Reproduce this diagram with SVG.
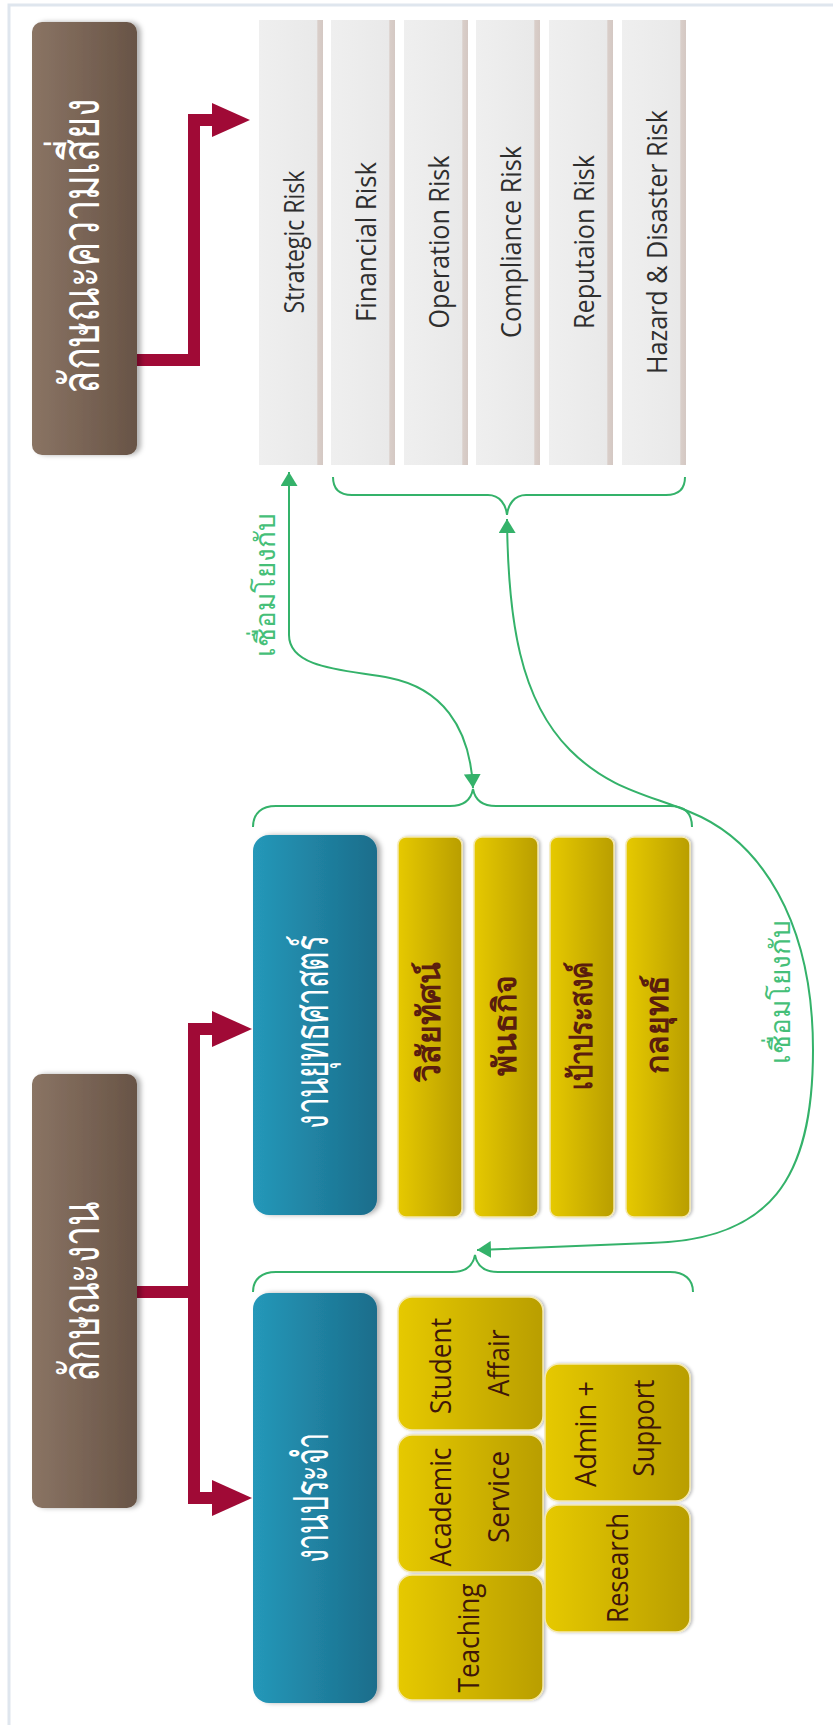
<svg xmlns="http://www.w3.org/2000/svg" width="833" height="1725" viewBox="0 0 833 1725">
<defs>
<linearGradient id="gBrown" x1="0" y1="0" x2="1" y2="0"><stop offset="0" stop-color="#8a7464"/><stop offset="1" stop-color="#685446"/></linearGradient>
<linearGradient id="gBlue" x1="0" y1="0" x2="1" y2="0"><stop offset="0" stop-color="#2598b9"/><stop offset="1" stop-color="#1b6d8b"/></linearGradient>
<linearGradient id="gYellow" x1="0" y1="0" x2="1" y2="0"><stop offset="0" stop-color="#e6c900"/><stop offset="1" stop-color="#b99e00"/></linearGradient>
<linearGradient id="gRisk" x1="0" y1="0" x2="1" y2="0"><stop offset="0" stop-color="#efefef"/><stop offset="0.9" stop-color="#e9e9e9"/><stop offset="0.92" stop-color="#d9cec9"/><stop offset="1" stop-color="#d4c8c3"/></linearGradient>
<filter id="shadow" x="-20%" y="-10%" width="150%" height="120%"><feDropShadow dx="4" dy="0" stdDeviation="2.5" flood-color="#000" flood-opacity="0.3"/></filter>
<filter id="shadowS" x="-20%" y="-10%" width="150%" height="120%"><feDropShadow dx="2" dy="0" stdDeviation="1.5" flood-color="#000" flood-opacity="0.25"/></filter>
<marker id="gArrow" viewBox="0 0 14 17" refX="14" refY="8.5" markerWidth="14" markerHeight="17" markerUnits="userSpaceOnUse" orient="auto-start-reverse"><path d="M0,0 L14,8.5 L0,17 z" fill="#34b26a"/></marker>
</defs>
<style>
.brown{fill:url(#gBrown);filter:url(#shadow)}
.blue{fill:url(#gBlue);filter:url(#shadow)}
.yel{fill:url(#gYellow);stroke:#f4e8ae;stroke-width:1.5;filter:url(#shadowS)}
.risk{fill:url(#gRisk)}
.red{fill:none;stroke:#a00a36;stroke-width:12;stroke-linejoin:miter}
.redh{fill:#a00a36}
.green{fill:none;stroke:#34b26a;stroke-width:2}
.thW{font-family:"Noto Sans","DejaVu Sans",sans-serif;fill:#ffffff;font-weight:500;text-anchor:middle}
.thY{font-family:"Noto Sans","DejaVu Sans",sans-serif;fill:#5a1d0e;font-weight:bold;font-size:32px;text-anchor:middle}
.thG{font-family:"Noto Sans","DejaVu Sans",sans-serif;fill:#45bf78;font-size:28px;text-anchor:middle}
.en{font-family:"Open Sans","Liberation Sans",sans-serif;fill:#2e2e2e;font-size:28px;text-anchor:middle}
.enY{font-family:"Open Sans","Liberation Sans",sans-serif;fill:#3f1709;font-size:30px;text-anchor:middle}
</style>
<rect width="833" height="1725" fill="#ffffff"/>
<path d="M833,5 H9 V1725" fill="none" stroke="#dfe6ee" stroke-width="3"/>

<g id="connectors">
<path class="red" d="M137,360 H194 V120 H214"/>
<polygon class="redh" points="212,103 250,120 212,137"/>
<path class="red" d="M137,1292 H194 M194,1029 V1498 M188,1029 H214 M188,1498 H214"/>
<polygon class="redh" points="212,1011 252,1029 212,1047"/>
<polygon class="redh" points="212,1480 252,1498 212,1516"/>
<path class="green" d="M333,477 C333,490 340,495 352,495 H488 C500,495 506,505 507,515 C508,505 514,495 526,495 H666 C678,495 685,490 685,477"/>
<path class="green" d="M253,827 C253,813 262,806 276,806 H450 C463,806 471,800 473,789 C475,800 483,806 496,806 H670 C684,806 692,813 692,827"/>
<path class="green" d="M253,1292 C253,1279 262,1272 276,1272 H452 C465,1272 473,1266 475,1255 C477,1266 485,1272 498,1272 H670 C684,1272 693,1279 693,1292"/>
<path class="green" marker-start="url(#gArrow)" marker-end="url(#gArrow)" d="M289,472 V635 C289,670 350,670 390,678 C440,688 470,725 473,788"/>
<path class="green" marker-start="url(#gArrow)" marker-end="url(#gArrow)" d="M507,519 C508,620 520,700 570,750 C610,790 650,795 690,812 C760,840 813,920 813,1050 C813,1180 770,1240 650,1243 L477,1250"/>
<text class="thG" transform="translate(275,585) rotate(-90)">เชื่อมโยงกับ</text>
<text class="thG" transform="translate(790,992) rotate(-90)">เชื่อมโยงกับ</text>
</g>

<g id="node-risk-type">
<rect class="brown" x="32" y="22" width="105" height="433" rx="10"/>
<text class="thW" font-size="54" transform="translate(99,246) rotate(-90) scale(0.7,1)">ลักษณะความเสี่ยง</text>
</g>

<g id="node-risk-strategic"><rect class="risk" x="259" y="20" width="64" height="445"/><text class="en" textLength="143" lengthAdjust="spacingAndGlyphs" transform="translate(304,242) rotate(-90)">Strategic Risk</text></g>
<g id="node-risk-financial"><rect class="risk" x="331" y="20" width="64" height="445"/><text class="en" textLength="160" lengthAdjust="spacingAndGlyphs" transform="translate(376,242) rotate(-90)">Financial Risk</text></g>
<g id="node-risk-operation"><rect class="risk" x="404" y="20" width="64" height="445"/><text class="en" textLength="173" lengthAdjust="spacingAndGlyphs" transform="translate(449,242) rotate(-90)">Operation Risk</text></g>
<g id="node-risk-compliance"><rect class="risk" x="476" y="20" width="64" height="445"/><text class="en" textLength="192" lengthAdjust="spacingAndGlyphs" transform="translate(521,242) rotate(-90)">Compliance Risk</text></g>
<g id="node-risk-reputation"><rect class="risk" x="549" y="20" width="64" height="445"/><text class="en" textLength="174" lengthAdjust="spacingAndGlyphs" transform="translate(594,242) rotate(-90)">Reputaion Risk</text></g>
<g id="node-risk-hazard"><rect class="risk" x="622" y="20" width="64" height="445"/><text class="en" textLength="264" lengthAdjust="spacingAndGlyphs" transform="translate(667,242) rotate(-90)">Hazard &amp; Disaster Risk</text></g>

<g id="node-work-type">
<rect class="brown" x="32" y="1074" width="105" height="434" rx="10"/>
<text class="thW" font-size="54" transform="translate(99,1292) rotate(-90) scale(0.66,1)">ลักษณะงาน</text>
</g>

<g id="node-strategic-work">
<rect class="blue" x="253" y="835" width="124" height="380" rx="16"/>
<text class="thW" font-size="48" transform="translate(328,1032) rotate(-90) scale(0.62,1)">งานยุทธศาสตร์</text>
</g>
<g id="node-vision"><rect class="yel" x="398" y="837" width="64" height="380" rx="8"/><text class="thY" transform="translate(440,1022) rotate(-90)">วิสัยทัศน์</text></g>
<g id="node-mission"><rect class="yel" x="474" y="837" width="64" height="380" rx="8"/><text class="thY" transform="translate(516,1025) rotate(-90)">พันธกิจ</text></g>
<g id="node-goal"><rect class="yel" x="550" y="837" width="64" height="380" rx="8"/><text class="thY" transform="translate(592,1026) rotate(-90) scale(0.8,1)">เป้าประสงค์</text></g>
<g id="node-strategy"><rect class="yel" x="626" y="837" width="64" height="380" rx="8"/><text class="thY" transform="translate(668,1024) rotate(-90)">กลยุทธ์</text></g>

<g id="node-routine-work">
<rect class="blue" x="253" y="1293" width="124" height="410" rx="16"/>
<text class="thW" font-size="48" transform="translate(328,1498) rotate(-90) scale(0.6,1)">งานประจำ</text>
</g>
<g id="node-student"><rect class="yel" x="398" y="1297" width="145" height="133" rx="14"/><text class="enY" textLength="96" lengthAdjust="spacingAndGlyphs" transform="translate(451,1366) rotate(-90)">Student</text><text class="enY" textLength="67" lengthAdjust="spacingAndGlyphs" transform="translate(509,1363) rotate(-90)">Affair</text></g>
<g id="node-academic"><rect class="yel" x="398" y="1435" width="145" height="137" rx="14"/><text class="enY" textLength="119" lengthAdjust="spacingAndGlyphs" transform="translate(451,1507) rotate(-90)">Academic</text><text class="enY" textLength="92" lengthAdjust="spacingAndGlyphs" transform="translate(509,1497) rotate(-90)">Service</text></g>
<g id="node-teaching"><rect class="yel" x="398" y="1575" width="145" height="125" rx="14"/><text class="enY" textLength="109" lengthAdjust="spacingAndGlyphs" transform="translate(479,1638) rotate(-90)">Teaching</text></g>
<g id="node-admin"><rect class="yel" x="545" y="1364" width="145" height="137" rx="14"/><text class="enY" textLength="106" lengthAdjust="spacingAndGlyphs" transform="translate(596,1434) rotate(-90)">Admin +</text><text class="enY" textLength="97" lengthAdjust="spacingAndGlyphs" transform="translate(654,1428) rotate(-90)">Support</text></g>
<g id="node-research"><rect class="yel" x="545" y="1505" width="145" height="127" rx="14"/><text class="enY" textLength="110" lengthAdjust="spacingAndGlyphs" transform="translate(628,1568) rotate(-90)">Research</text></g>
</svg>
